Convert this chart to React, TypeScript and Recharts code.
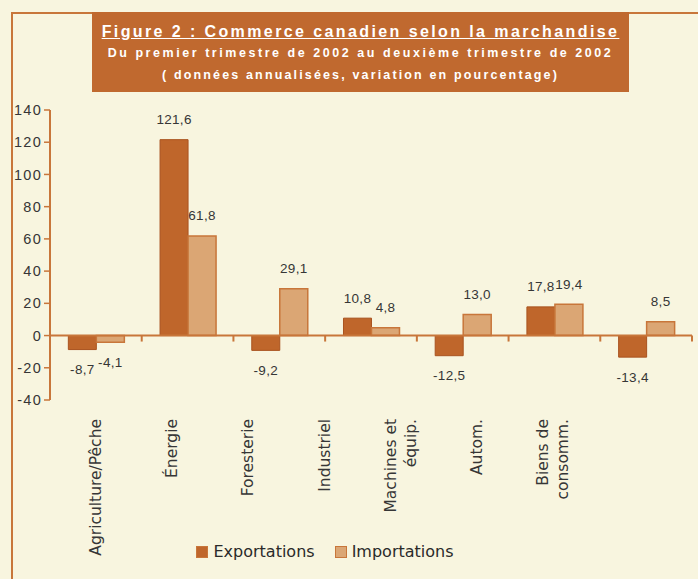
import React from 'react';
import {
  BarChart, Bar, XAxis, YAxis, ReferenceLine, LabelList, Legend,
} from 'recharts';

const categories = [
  'Agriculture/Pêche',
  'Énergie',
  'Foresterie',
  'Industriel',
  'Machines et\néquip.',
  'Autom.',
  'Biens de\nconsomm.',
];
const exportations = [-8.7, 121.6, -9.2, 10.8, -12.5, 17.8, -13.4];
const importations = [-4.1, 61.8, 29.1, 4.8, 13.0, 19.4, 8.5];
const yTicks = [-40, -20, 0, 20, 40, 60, 80, 100, 120, 140];

const data = categories.map((name, i) => ({
  name,
  exportations: exportations[i],
  importations: importations[i],
}));

const BG = '#f8f5df';
const FRAME = '#c8763a';
const EXP = '#bf662b';
const IMP = '#dba674';
const INK = '#363636';

const fmt = (v: number) => v.toFixed(1).replace('.', ',');

const ValueLabel = (props: any) => {
  const { x, y, width, height, value } = props;
  const top = Math.min(y, y + height);
  const bottom = Math.max(y, y + height);
  const cy = value < 0 ? bottom + 20 : top - 20;
  return (
    <text x={x + width / 2} y={cy + 4.5} textAnchor="middle" fontSize={13.5}
      fontFamily="'Liberation Sans', Arial" fill={INK} letterSpacing={0.3}>
      {fmt(value)}
    </text>
  );
};

// zero line with small tick marks at the category boundaries
const ZeroLine = (props: any) => {
  const { x1, x2, y1 } = props;
  const step = (x2 - x1) / categories.length;
  return (
    <g stroke={FRAME} strokeWidth={2}>
      <line x1={x1} x2={x2} y1={y1} y2={y1} />
      {categories.map((_, i) => (
        <line key={i} x1={x1 + step * (i + 1)} x2={x1 + step * (i + 1)} y1={y1} y2={y1 + 6} />
      ))}
    </g>
  );
};

const CategoryTick = (props: any) => {
  const { x, y, payload, index } = props;
  const lines = String(payload.value).split('\n');
  const cx = x - index * 15.5 + 5;
  const start = cx - ((lines.length - 1) * 20) / 2;
  return (
    <g>
      {lines.map((l, k) => (
        <text key={k} transform={`translate(${start + k * 20},${y + 11}) rotate(-90)`}
          textAnchor="end" fontSize={15.5} fontFamily="'DejaVu Sans', Verdana"
          fill={INK}>
          {l}
        </text>
      ))}
    </g>
  );
};

const LegendContent = () => (
  <div style={{ display: 'flex', justifyContent: 'center', fontFamily: "'DejaVu Sans', Verdana", fontSize: 16, color: '#2a2a2a' }}>
    {[['Exportations', EXP], ['Importations', IMP]].map(([label, c]) => (
      <span key={label} style={{ display: 'flex', alignItems: 'center', marginRight: 20 }}>
        <span style={{ width: 10, height: 10, background: c, border: `1px solid ${FRAME}`, marginRight: 5 }} />
        {label}
      </span>
    ))}
  </div>
);

export default function App() {
  return (
    <div style={{ position: 'absolute', left: 0, top: 0, width: 698, height: 579, background: BG, overflow: 'hidden' }}>
      <div style={{ position: 'absolute', left: 11, top: 12, width: 700, height: 600, borderLeft: `2px solid ${FRAME}`, borderTop: `2px solid ${FRAME}` }} />
      <div style={{
        position: 'absolute', left: 92, top: 12, width: 537, height: 80, background: '#c0692f',
        color: '#fff', fontFamily: "'Liberation Sans', Arial", fontWeight: 'bold', textAlign: 'center',
      }}>
        <div style={{ fontSize: 16, letterSpacing: 2.4, textDecoration: 'underline', marginTop: 10, lineHeight: '19px' }}>
          Figure 2 : Commerce canadien selon la marchandise
        </div>
        <div style={{ fontSize: 12.5, letterSpacing: 2.55, marginTop: 5, lineHeight: '14px' }}>
          Du premier trimestre de 2002 au deuxième trimestre de 2002
        </div>
        <div style={{ fontSize: 12.5, letterSpacing: 2.15, marginTop: 8, lineHeight: '14px' }}>
          ( données annualisées, variation en pourcentage)
        </div>
      </div>
      <div style={{ position: 'absolute', left: 0, top: 0 }}>
        <BarChart width={698} height={579} data={data}
          margin={{ top: 110, right: 6, bottom: 19, left: 0 }}
          barCategoryGap="20%" barGap={0}>
          <XAxis dataKey="name" height={160} axisLine={false} tickLine={false}
            tick={<CategoryTick />} interval={0} />
          <YAxis domain={[-40, 140]} ticks={yTicks} width={50} interval={0}
            axisLine={{ stroke: FRAME, strokeWidth: 2 }} tickLine={{ stroke: FRAME, strokeWidth: 1.5 }}
            tickSize={6} tickMargin={2}
            tick={{ fill: INK, fontSize: 14.5, fontFamily: "'Liberation Sans', Arial", letterSpacing: 1.3 }} />
          <ReferenceLine y={0} shape={<ZeroLine />} />
          <Bar dataKey="exportations" name="Exportations" fill={EXP} stroke="#a9531f" strokeWidth={1} isAnimationActive={false}>
            <LabelList dataKey="exportations" content={<ValueLabel />} />
          </Bar>
          <Bar dataKey="importations" name="Importations" fill={IMP} stroke={FRAME} strokeWidth={1.5} isAnimationActive={false}>
            <LabelList dataKey="importations" content={<ValueLabel />} />
          </Bar>
          <Legend layout="horizontal" verticalAlign="middle" align="center" content={<LegendContent />}
            wrapperStyle={{ top: 542, left: 0, width: 670 }} />
        </BarChart>
      </div>
    </div>
  );
}
